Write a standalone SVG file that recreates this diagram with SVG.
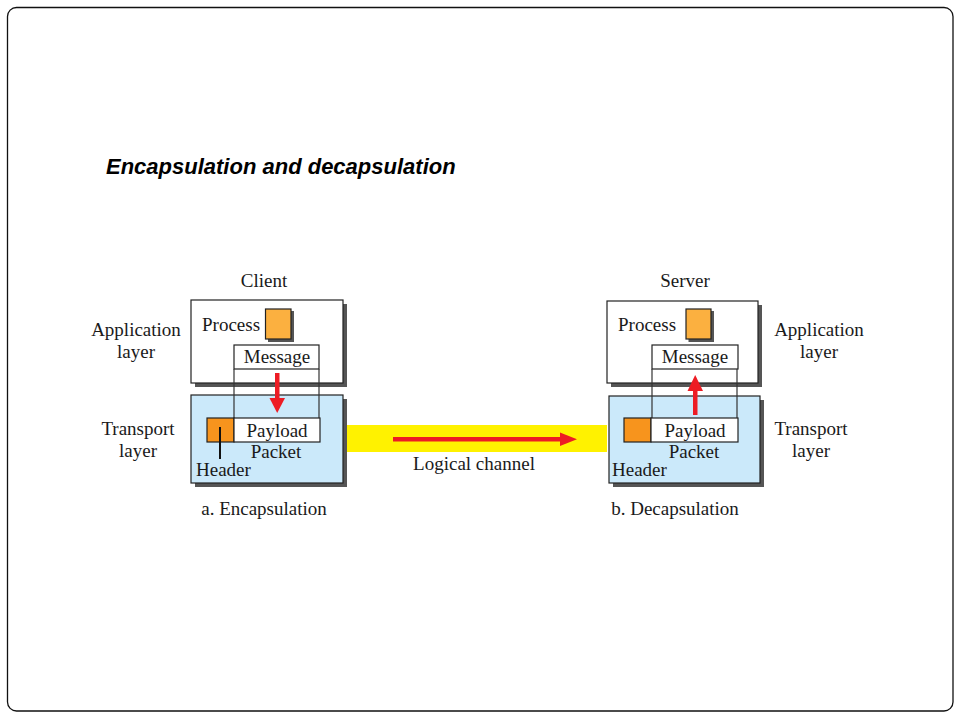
<svg xmlns="http://www.w3.org/2000/svg" width="960" height="720" viewBox="0 0 960 720">
<style>
.t{font-family:"Liberation Serif","Times New Roman",serif;font-size:19px;fill:#1a1a1a}
.c{text-anchor:middle}
.box{stroke:#222;stroke-width:1.2}
.sh{fill:#555}
.ln{stroke:#333;stroke-width:1.2}
.red{fill:#ed1c24}
</style>
<rect x="0" y="0" width="960" height="720" fill="#fff"/>
<rect x="7.5" y="7.5" width="945.5" height="703.5" rx="9" fill="#fff" stroke="#111" stroke-width="1.3"/>
<text x="106" y="174" font-family="Liberation Sans, Arial, sans-serif" font-size="22" font-weight="bold" font-style="italic" fill="#000">Encapsulation and decapsulation</text>

<g id="client">
<text class="t c" x="264" y="287">Client</text>
<text class="t c" x="136" y="336">Application</text>
<text class="t c" x="136" y="358">layer</text>
<text class="t c" x="138" y="435">Transport</text>
<text class="t c" x="138" y="457">layer</text>
<rect class="sh" x="195" y="304" width="152" height="83"/>
<rect class="box" x="191" y="300" width="152" height="83" fill="#fff"/>
<rect class="sh" x="195" y="399" width="152" height="88"/>
<rect class="box" x="191" y="395" width="152" height="88" fill="#cbe9fa"/>
<text class="t" x="202" y="331">Process</text>
<rect class="sh" x="268" y="311" width="26" height="31"/>
<rect class="box" x="265.5" y="309" width="25.5" height="30" fill="#fbb040"/>
<rect class="box" x="234" y="345" width="85" height="24" fill="#fff"/>
<text class="t c" x="277" y="363">Message</text>
<line class="ln" x1="234" y1="369" x2="234" y2="418"/>
<line class="ln" x1="319" y1="369" x2="319" y2="418"/>
<rect class="box" x="207" y="418" width="27" height="24" fill="#f7941d"/>
<rect class="box" x="234" y="418" width="86" height="24" fill="#fff"/>
<text class="t c" x="277" y="437">Payload</text>
<text class="t c" x="276" y="458">Packet</text>
<line x1="220" y1="427" x2="220" y2="459" stroke="#111" stroke-width="2"/>
<text class="t" x="196" y="476">Header</text>
<text class="t c" x="264" y="515">a. Encapsulation</text>
</g>

<g id="server">
<text class="t c" x="685" y="287">Server</text>
<text class="t c" x="819" y="336">Application</text>
<text class="t c" x="819" y="358">layer</text>
<text class="t c" x="811" y="435">Transport</text>
<text class="t c" x="811" y="457">layer</text>
<rect class="sh" x="611" y="305" width="151" height="82"/>
<rect class="box" x="607" y="301" width="151" height="82" fill="#fff"/>
<rect class="sh" x="613" y="400" width="151" height="87"/>
<rect class="box" x="609" y="396" width="151" height="87" fill="#cbe9fa"/>
<text class="t" x="618" y="331">Process</text>
<rect class="sh" x="688.5" y="311" width="25.5" height="31"/>
<rect class="box" x="686" y="309" width="25" height="30" fill="#fbb040"/>
<rect class="box" x="652" y="345" width="86" height="24" fill="#fff"/>
<text class="t c" x="695" y="363">Message</text>
<line class="ln" x1="652" y1="369" x2="652" y2="418"/>
<line class="ln" x1="737" y1="369" x2="737" y2="418"/>
<rect class="box" x="624" y="418" width="27" height="24" fill="#f7941d"/>
<rect class="box" x="651" y="418" width="87" height="24" fill="#fff"/>
<text class="t c" x="695" y="437">Payload</text>
<text class="t c" x="694" y="458">Packet</text>
<text class="t" x="612" y="476">Header</text>
<text class="t c" x="675" y="515">b. Decapsulation</text>
</g>

<g id="channel">
<rect x="347" y="425" width="260" height="27" fill="#fff200"/>
<text class="t c" x="474" y="470">Logical channel</text>
</g>

<g id="connectors">
<rect class="red" x="275" y="373" width="4.5" height="27"/>
<polygon class="red" points="269.5,398 285,398 277.2,413"/>
<rect class="red" x="693" y="389" width="4.5" height="26"/>
<polygon class="red" points="687.5,391 703,391 695.2,375"/>
<rect class="red" x="393" y="437" width="170" height="4.5"/>
<polygon class="red" points="560,432.5 577,439.2 560,446"/>
</g>
</svg>
